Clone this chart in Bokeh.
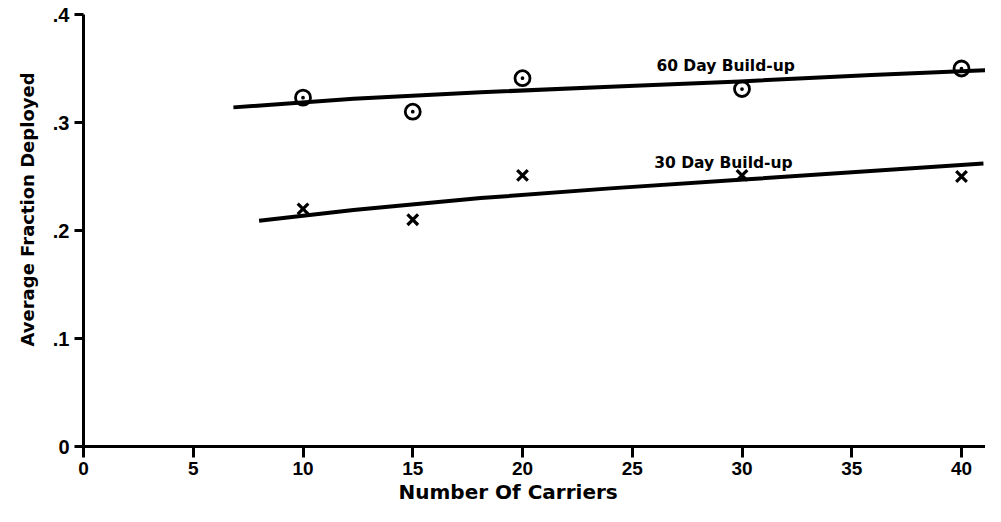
from bokeh.plotting import figure
from bokeh.models import FixedTicker, Range1d, Title
from bokeh.core.properties import value
from bokeh.embed import file_html
from bokeh.resources import INLINE

# ---- data ----
carriers = [10, 15, 20, 30, 40]
day60 = [0.323, 0.310, 0.341, 0.331, 0.350]
day30 = [0.220, 0.210, 0.251, 0.251, 0.250]

# hand-drawn fitted curves
fit60_x = [6.83, 12.3, 18.1, 24.0, 29.9, 35.9, 41.7]
fit60_y = [0.314, 0.322, 0.328, 0.333, 0.338, 0.344, 0.349]
fit30_x = [8.0, 12.3, 18.1, 24.0, 29.9, 41.0]
fit30_y = [0.209, 0.219, 0.230, 0.239, 0.247, 0.262]

x_ticks = [0, 5, 10, 15, 20, 25, 30, 35, 40]
y_ticks = [0, 0.1, 0.2, 0.3, 0.4]
y_tick_labels = ["0", ".1", ".2", ".3", ".4"]

x_title = "Number Of Carriers"
y_title = "Average Fraction Deployed"

series_labels = ["60 Day Build-up", "30 Day Build-up"]
label_x = [26.1, 26.0]
label_y = [0.3527, 0.2622]

# ---- figure ----
W, H = 985, 506
p = figure(width=W, height=H,
           x_range=Range1d(0, (W - 83) / 21.95), y_range=Range1d(0, 0.4),
           output_backend="svg", toolbar_location=None,
           min_border_left=83, min_border_right=0,
           min_border_top=14, min_border_bottom=60)
p.grid.visible = False
p.outline_line_color = None
p.background_fill_color = "white"
p.border_fill_color = "white"

tick_font = "Liberation Sans"

p.xaxis.ticker = FixedTicker(ticks=x_ticks, minor_ticks=[])
p.xaxis.axis_line_width = 3
p.xaxis.axis_line_color = "black"
p.xaxis.major_tick_line_width = 3
p.xaxis.major_tick_line_color = "black"
p.xaxis.major_tick_out = 11
p.xaxis.major_tick_in = 0
p.xaxis.minor_tick_out = 0
p.xaxis.major_label_text_font = tick_font
p.xaxis.major_label_text_font_style = "bold"
p.xaxis.major_label_text_font_size = "19px"
p.xaxis.major_label_text_color = "black"
p.xaxis.major_label_standoff = 4

p.yaxis.ticker = FixedTicker(ticks=y_ticks, minor_ticks=[])
p.yaxis.major_label_overrides = {t: l for t, l in zip(y_ticks, y_tick_labels)}
p.yaxis.axis_line_width = 3
p.yaxis.axis_line_color = "black"
p.yaxis.major_tick_line_width = 3
p.yaxis.major_tick_line_color = "black"
p.yaxis.major_tick_out = 9
p.yaxis.major_tick_in = 0
p.yaxis.minor_tick_out = 0
p.yaxis.major_label_text_font = tick_font
p.yaxis.major_label_text_font_style = "bold"
p.yaxis.major_label_text_font_size = "20px"
p.yaxis.major_label_text_color = "black"
p.yaxis.major_label_standoff = 5

p.add_layout(Title(text=x_title, align="left", offset=315,
                   text_font="DejaVu Sans", text_font_size="20px",
                   text_font_style="bold", text_color="black", standoff=0), "below")
p.add_layout(Title(text=y_title, align="left", offset=100,
                   text_font="DejaVu Sans", text_font_size="18px",
                   text_font_style="bold", text_color="black", standoff=24), "left")

# fitted curves
p.line(fit60_x, fit60_y, line_width=4, line_color="black", line_join="round")
p.line(fit30_x, fit30_y, line_width=4, line_color="black", line_join="round")

# data markers
p.scatter(carriers, day60, marker="circle_dot", size=15, fill_color=None,
          line_color="black", line_width=2.8)
p.scatter(carriers, day30, marker="x", size=15, line_color="black", line_width=3.2)

# series annotations
p.text(x=label_x, y=label_y, text=series_labels,
       text_font=value("DejaVu Sans"), text_font_size="15.5px",
       text_font_style="bold", text_color="black",
       text_align="left", text_baseline="alphabetic")

open("out.html", "w").write(file_html(p, INLINE))
